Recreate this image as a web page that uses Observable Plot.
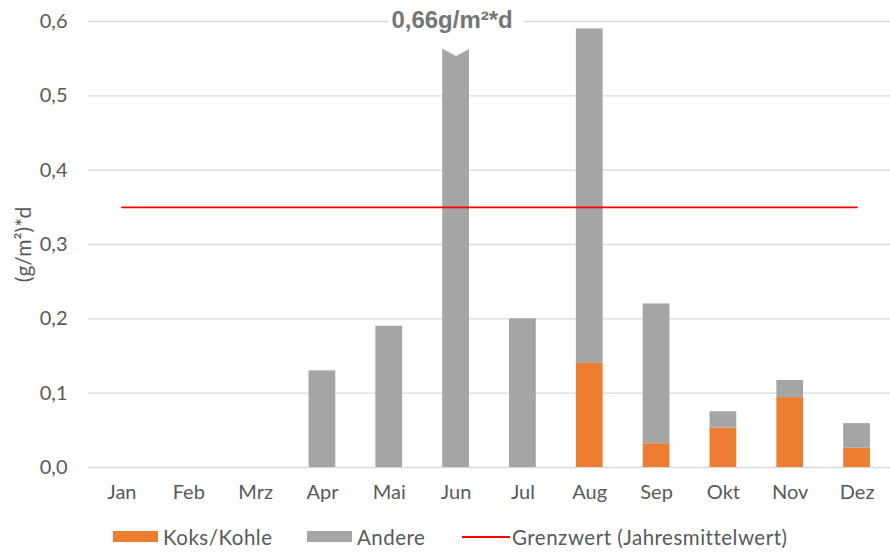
<!DOCTYPE html>
<html>
<head>
<meta charset="utf-8">
<script src="https://cdn.jsdelivr.net/npm/d3@7"></script>
<script src="https://cdn.jsdelivr.net/npm/@observablehq/plot@0.6"></script>
<style>
  html, body { margin: 0; padding: 0; background: #fff; }
  #wrap { position: relative; width: 890px; height: 553px; overflow: hidden;
          font-family: Lato, "Open Sans", sans-serif; color: #595959; }
  #legend { position: absolute; left: 0; top: 520px; width: 890px; height: 33px; font-size: 20.5px; letter-spacing: 0.5px; }
  .item { position: absolute; top: 0; height: 33px; display: flex; align-items: center; }
  .sw { display: inline-block; width: 45px; height: 11px; margin-right: 5px; }
  .ln { display: inline-block; width: 48px; height: 2px; background: #ff0000; margin-right: 2px; }
</style>
</head>
<body>
<div id="wrap">
  <div id="chart"></div>
  <div id="legend"></div>
</div>
<script>
// ---- data ----
const months = ["Jan","Feb","Mrz","Apr","Mai","Jun","Jul","Aug","Sep","Okt","Nov","Dez"];
const koksKohle = [0, 0, 0, 0, 0, 0, 0, 0.14, 0.032, 0.053, 0.094, 0.026];
const andere    = [0, 0, 0, 0.13, 0.19, 0.66, 0.20, 0.45, 0.188, 0.022, 0.023, 0.033];
const grenzwert = 0.35;
const yTicks = [0, 0.1, 0.2, 0.3, 0.4, 0.5, 0.6];
const seriesNames = ["Koks/Kohle", "Andere", "Grenzwert (Jahresmittelwert)"];
const seriesColors = ["#ED7D31", "#A5A5A5", "#FF0000"];
const junLabel = "0,66g/m²*d";
const yLabel = "(g/m²)*d";
const yMax = 0.6;
const breakAt = 0.565; // where an over-range bar is cut

const rows = months.map((m, i) => ({month: m, koks: koksKohle[i], andere: andere[i], total: koksKohle[i] + andere[i]}));
const over = rows.filter(d => d.total > yMax);

const notch = {
  draw(ctx) {
    ctx.moveTo(-16, -3);
    ctx.lineTo(16, -3);
    ctx.lineTo(16, 0);
    ctx.lineTo(0, 8.5);
    ctx.lineTo(-16, 0);
    ctx.closePath();
  }
};

const fmt = d => d.toFixed(1).replace(".", ",");
const font = 'Lato, "Open Sans", sans-serif';

const chart = Plot.plot({
  width: 890,
  height: 520,
  marginLeft: 88,
  marginRight: 0,
  marginTop: 21,
  marginBottom: 53,
  style: {fontFamily: font, fontSize: "20px", color: "#595959", background: "white", overflow: "visible"},
  x: {type: "band", domain: months, paddingInner: 0.6, paddingOuter: 0.3, round: false, label: null},
  y: {domain: [0, yMax], label: null},
  marks: [
    Plot.ruleY(yTicks, {stroke: "#d9d9d9", strokeWidth: 1.4}),
    Plot.barY(rows.filter(d => d.koks > 0), {x: "month", y1: 0, y2: "koks", fill: seriesColors[0]}),
    Plot.barY(rows.filter(d => d.andere > 0), {x: "month", y1: "koks", y2: d => d.total > yMax ? breakAt : d.total, fill: seriesColors[1]}),
    Plot.dot(over, {x: "month", y: () => breakAt, symbol: notch, fill: "white", stroke: "none", r: 1}),
    Plot.line(months, {x: d => d, y: () => grenzwert, stroke: seriesColors[2], strokeWidth: 1.6}),
    Plot.axisY(yTicks, {tickSize: 0, tickPadding: 21, tickFormat: fmt, fontSize: 20, fill: "#595959"}),
    Plot.axisX(months, {tickSize: 0, tickPadding: 17, fontSize: 20, fill: "#595959"}),
    Plot.text([yLabel], {frameAnchor: "left", textAnchor: "middle", rotate: -90, dx: -64, fontSize: 21, fill: "#595959", letterSpacing: "0.5px"}),
    Plot.text(over, {x: "month", y: () => yMax, text: () => junLabel, fontFamily: '"Liberation Sans", Arial, sans-serif',
      fontWeight: "bold", fontSize: 24, fill: "#767676", dx: -4, dy: -1, lineAnchor: "middle", letterSpacing: "1.6px"})
  ]
});
document.getElementById("chart").appendChild(chart);

// white box behind the over-range label (covers the gridline)
chart.querySelectorAll("text").forEach(t => {
  if (t.textContent === junLabel) {
    const b = t.getBBox();
    const g = t.closest("g");
    const r = document.createElementNS("http://www.w3.org/2000/svg", "rect");
    r.setAttribute("x", b.x - 3);
    r.setAttribute("y", b.y);
    r.setAttribute("width", b.width + 14);
    r.setAttribute("height", b.height);
    r.setAttribute("fill", "white");
    const tr = [g.getAttribute("transform"), t.getAttribute("transform")].filter(Boolean).join(" ");
    if (tr) r.setAttribute("transform", tr);
    g.parentNode.insertBefore(r, g);
  }
});

// legend
const legend = document.getElementById("legend");
const lefts = [113, 307, 462];
seriesNames.forEach((name, i) => {
  const it = document.createElement("div");
  it.className = "item";
  it.style.left = lefts[i] + "px";
  const mk = document.createElement("span");
  mk.className = i < 2 ? "sw" : "ln";
  mk.style.background = seriesColors[i];
  it.appendChild(mk);
  const tx = document.createElement("span");
  tx.textContent = name;
  it.appendChild(tx);
  legend.appendChild(it);
});
</script>
</body>
</html>
